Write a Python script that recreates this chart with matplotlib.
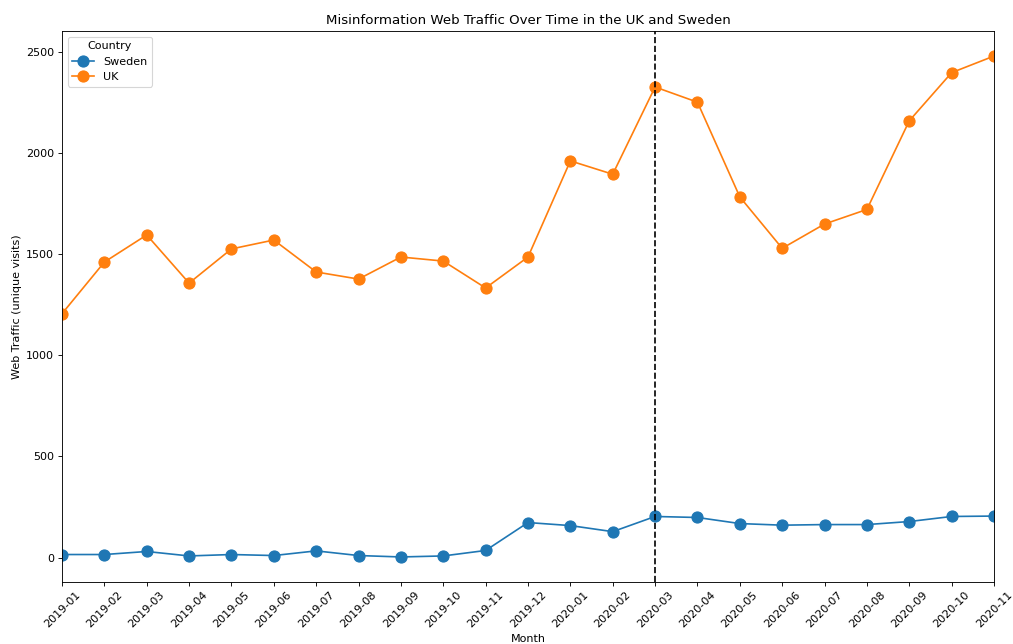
import numpy as np
import pandas as pd
import matplotlib
matplotlib.use("Agg")
import matplotlib.pyplot as plt

# Data
months = ["2019-01", "2019-02", "2019-03", "2019-04", "2019-05", "2019-06",
          "2019-07", "2019-08", "2019-09", "2019-10", "2019-11", "2019-12",
          "2020-01", "2020-02", "2020-03", "2020-04", "2020-05", "2020-06",
          "2020-07", "2020-08", "2020-09", "2020-10", "2020-11"]
sweden = [15, 15, 30, 8, 15, 10, 33, 10, 3, 8, 35, 173,
          158, 128, 203, 198, 168, 160, 163, 163, 178, 203, 205]
uk = [1205, 1460, 1594, 1356, 1525, 1569, 1411, 1376, 1485, 1465, 1332, 1485,
      1960, 1894, 2325, 2250, 1782, 1528, 1648, 1720, 2158, 2396, 2478]
event_month = "2020-03"

df = pd.DataFrame({"Month": months, "Sweden": sweden, "UK": uk})

dpi = 80
fig = plt.figure(figsize=(1013 / dpi, 644 / dpi), dpi=dpi)
ax = fig.add_axes([62 / 1013, 1 - 582 / 644, (994 - 62) / 1013, (582 - 31) / 644])

# categorical months -> evenly spaced
for country in ["Sweden", "UK"]:
    ax.plot(df["Month"], df[country], marker="o", markersize=10, label=country)

ax.axvline(months.index(event_month), color="black", linestyle="--", linewidth=1.5)

ax.set_xlim(0, len(months) - 1)
ax.tick_params(axis="x", rotation=45)
ax.set_title("Misinformation Web Traffic Over Time in the UK and Sweden", fontsize=12)
ax.set_xlabel("Month")
ax.set_ylabel("Web Traffic (unique visits)")
ax.legend(title="Country", loc="upper left")

fig.savefig("out.png", dpi=dpi)
